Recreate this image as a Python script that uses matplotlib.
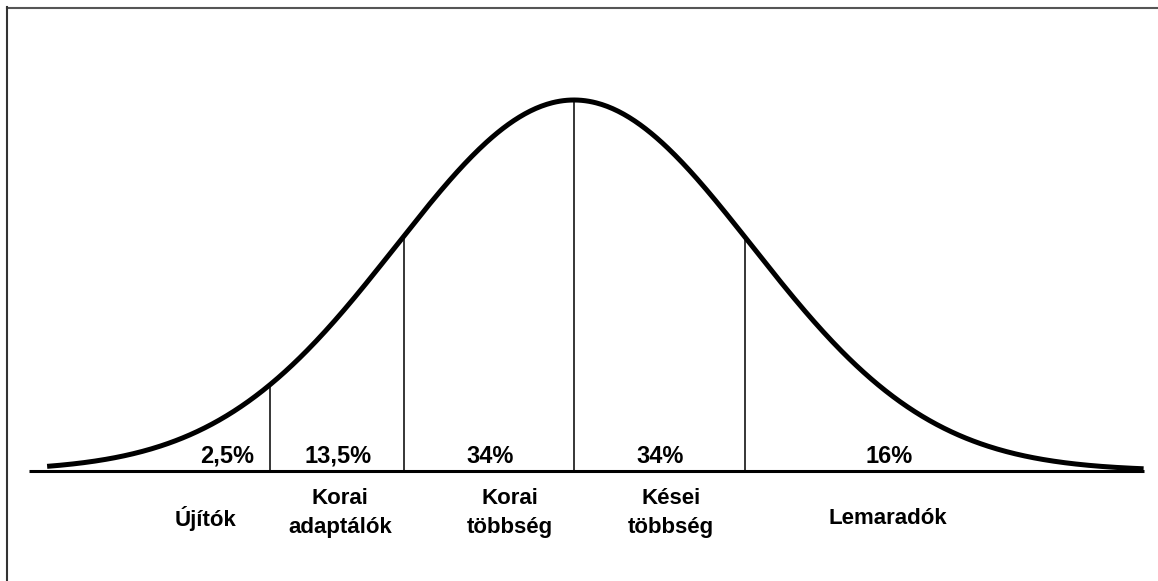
import matplotlib
matplotlib.use("Agg")
import matplotlib.pyplot as plt
from matplotlib.lines import Line2D
import numpy as np

plt.rcParams['font.family'] = ['Liberation Sans', 'DejaVu Sans']

# adat
boundaries = [-1.71, -0.955, 0.0, 0.96]          # függőleges vonalak (z)
percents = ["2,5%", "13,5%", "34%", "34%", "16%"]
percent_x = [-1.95, -1.326, -0.472, 0.483, 1.77]
groups = ["Újítók", "Korai\nadaptálók", "Korai\ntöbbség", "Kései\ntöbbség", "Lemaradók"]
group_x = [-2.07, -1.315, -0.36, 0.545, 1.764]
group_y = [-0.127, -0.113, -0.113, -0.113, -0.127]
x_min, x_max = -2.96, 3.2

def bell(z):
    return np.exp(-z ** 2 / 2)

fig = plt.figure(figsize=(11.58, 5.81), dpi=100)
ax = fig.add_axes([0, 0, 1, 1])
ax.set_xlim(-574 / 178, (1158 - 574) / 178)
ax.set_ylim(-110 / 371, 471 / 371)
ax.axis('off')

z = np.linspace(x_min, x_max, 600)
ax.plot(z, bell(z), color='black', lw=3.6, solid_capstyle='butt')
ax.plot([-3.06, x_max], [0, 0], color='black', lw=2.2, solid_capstyle='butt')

for b in boundaries:
    ax.plot([b, b], [0, bell(b)], color='black', lw=1.1)

for t, x in zip(percents, percent_x):
    ax.text(x, 0.0216, t, ha='center', va='baseline', fontsize=17, fontweight='bold')

for t, x, y in zip(groups, group_x, group_y):
    ax.text(x, y, t, ha='center', va='center', fontsize=16,
            fontweight='bold', linespacing=1.5)

# keret (felső és bal oldali)
fig.add_artist(Line2D([7 / 1158, 1], [1 - 7.5 / 581] * 2, color='#555555', lw=1.5))
fig.add_artist(Line2D([7.5 / 1158] * 2, [0, 1 - 7 / 581], color='#333333', lw=1.5))

fig.savefig("out.png", dpi=100)
